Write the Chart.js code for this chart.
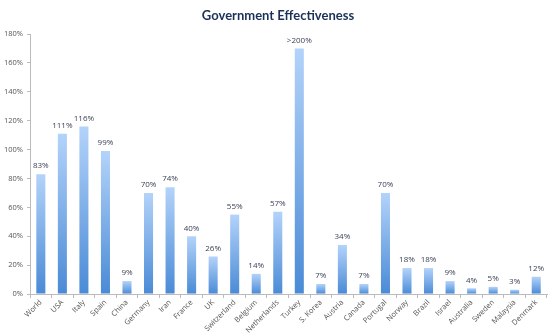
<!DOCTYPE html>
<html><head><meta charset="utf-8">
<script src="https://cdn.jsdelivr.net/npm/chart.js@4.4.0/dist/chart.umd.min.js"></script>
<style>html,body{margin:0;padding:0;background:#fff}#wrap{width:550px;height:335px}</style>
</head><body><div id="wrap"><canvas id="c"></canvas></div>
<script>
const categories = ["World","USA","Italy","Spain","China","Germany","Iran","France","UK","Switzerland","Belgium","Netherlands","Turkey","S. Korea","Austria","Canada","Portugal","Norway","Brazil","Israel","Australia","Sweden","Malaysia","Denmark"];
const values = [83,111,116,99,9,70,74,40,26,55,14,57,170,7,34,7,70,18,18,9,4,5,3,12];
const valueLabels = ["83%","111%","116%","99%","9%","70%","74%","40%","26%","55%","14%","57%",">200%","7%","34%","7%","70%","18%","18%","9%","4%","5%","3%","12%"];
const yTicks = [0,20,40,60,80,100,120,140,160,180];
const chartTitle = "Government Effectiveness";

const labelPlugin = {
  id: 'valLabels',
  afterDatasetsDraw(chart) {
    const ctx = chart.ctx;
    const meta = chart.getDatasetMeta(0);
    ctx.save();
    ctx.font = '8px "Open Sans", sans-serif';
    ctx.fillStyle = '#3b4256';
    ctx.textAlign = 'center';
    ctx.textBaseline = 'bottom';
    meta.data.forEach((bar, i) => {
      ctx.fillText(valueLabels[i], bar.x, bar.y - 4);
    });
    ctx.restore();
  }
};

const titlePlugin = {
  id: 'customTitle',
  afterDraw(chart) {
    const ctx = chart.ctx;
    ctx.save();
    ctx.font = 'bold 13px Lato, "Open Sans", sans-serif';
    ctx.fillStyle = '#1c3157';
    ctx.textAlign = 'center';
    ctx.textBaseline = 'middle';
    ctx.fillText(chartTitle, 278, 16);
    ctx.restore();
  }
};

new Chart(document.getElementById('c'), {
  type: 'bar',
  data: {
    labels: categories,
    datasets: [{
      data: values,
      backgroundColor(context) {
        const chart = context.chart;
        const y = chart.scales.y;
        if (!y || !chart.chartArea) return '#7fb0ea';
        const top = y.getPixelForValue(context.raw);
        const bot = y.getPixelForValue(0);
        const g = chart.ctx.createLinearGradient(0, top, 0, bot);
        g.addColorStop(0, '#b3d3fa');
        g.addColorStop(1, '#4a8ad6');
        return g;
      },
      borderWidth: 0,
      barPercentage: 0.42,
      categoryPercentage: 1
    }]
  },
  options: {
    responsive: true,
    maintainAspectRatio: false,
    animation: false,
    layout: { padding: { left: 0, right: 3, top: 34, bottom: 0 } },
    plugins: {
      legend: { display: false },
      tooltip: { enabled: false },
      title: { display: false }
    },
    scales: {
      y: {
        min: 0, max: 180,
        afterBuildTicks(scale) { scale.ticks = yTicks.map(v => ({ value: v })); },
        ticks: {
          callback: v => v + '%',
          color: '#555',
          font: { family: '"Open Sans", sans-serif', size: 7.5 },
          padding: 4
        },
        grid: { display: true, drawOnChartArea: false, drawTicks: true, tickLength: 3, color: '#bbb' },
        border: { display: true, color: '#bbb' }
      },
      x: {
        ticks: {
          color: '#555',
          font: { family: '"Open Sans", sans-serif', size: 7.5 },
          maxRotation: 45, minRotation: 45,
          autoSkip: false,
          padding: 0
        },
        grid: { display: true, offset: true, drawOnChartArea: false, drawTicks: true, tickLength: 4, color: '#bbb' },
        border: { display: true, color: '#bbb' }
      }
    }
  },
  plugins: [labelPlugin, titlePlugin]
});
</script></body></html>
